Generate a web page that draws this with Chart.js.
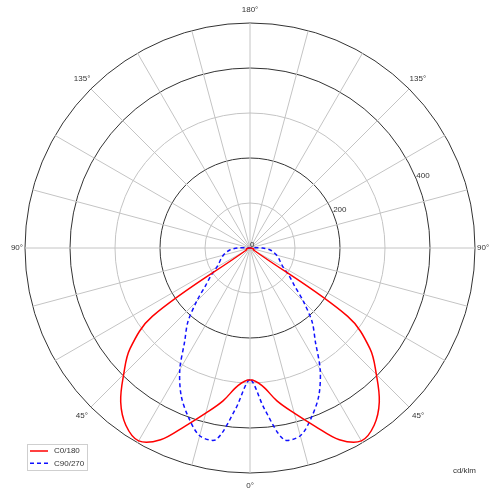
<!DOCTYPE html>
<html><head><meta charset="utf-8">
<script src="https://cdn.jsdelivr.net/npm/chart.js@4.4.1/dist/chart.umd.min.js"></script>
<style>html,body{margin:0;padding:0;background:#fff}#wrap{width:500px;height:496px}</style>
</head><body><div id="wrap"><canvas id="c" width="500" height="496"></canvas></div>
<script>
// gamma angles (deg from nadir) and luminous intensity in cd/klm
const gammaAngles = [0,5,10,15,20,25,30,35,40,45,50,55,60,65,70,75,80,85,90,95,100,105,110,115,120,125,130,135,140,145,150,155,160,165,170,175,180];
const c0_180  = [293,307,345,380,421,470,495,481,447,397,348,265,10,9,9,8,6,4,2,0,0,0,0,0,0,0,0,0,0,0,0,0,0,0,0,0,0];
const c90_270 = [293,357,432,432,400,362,312,253,215,168,128,105,85,75,68,61,53,44,28,5,0,0,0,0,0,0,0,0,0,0,0,0,0,0,0,0,0];
const seriesNames = ['C0/180','C90/270'];
const radialTickValues = [0,200,400];
const angleLabelValues = [0,45,90,135,180];
const unitLabel = 'cd/klm';

const STEP = 5;
const circleAngles = [];
for (let a = 0; a < 360; a += STEP) circleAngles.push(a);
const gammaOf = a => (a <= 180 ? a : 360 - a);
const valueAt = (arr, a) => arr[gammaAngles.indexOf(gammaOf(a))];

const FONT = '8px "Liberation Sans", Arial, sans-serif';
const TXT = '#333';

const labelPlugin = {
  id: 'polarLabels',
  afterDatasetsDraw(chart) {
    const s = chart.scales.r;
    const ctx = chart.ctx;
    ctx.save();
    ctx.font = FONT;
    ctx.fillStyle = TXT;
    const R = s.drawingArea;
    const seen = new Set();
    angleLabelValues.forEach(g => {
      [g, 360 - g].forEach(a0 => {
        const a = a0 % 360;
        if (seen.has(a)) return; seen.add(a);
        const p = s.getPointPosition(a / STEP, R);
        let x = p.x, y = p.y, align = 'center';
        if (a === 0) { y += 12.5; }
        else if (a === 180) { y -= 13.5; }
        else if (a === 90) { align = 'right'; x -= 2; }
        else if (a === 270) { align = 'left'; x += 2; }
        else {
          const left = a < 180;
          const bottom = (a < 90 || a > 270);
          align = left ? 'right' : 'left';
          x += (left ? -1 : 1) * (bottom ? 3 : 0.5);
          y += bottom ? 9 : -10;
        }
        ctx.textAlign = align;
        ctx.textBaseline = 'middle';
        ctx.fillText(g + '°', x, y);
      });
    });
    const tickIndex = (180 + 67.5) / STEP;
    ctx.textAlign = 'left';
    ctx.textBaseline = 'alphabetic';
    radialTickValues.forEach(v => {
      const p = s.getPointPosition(tickIndex, s.getDistanceFromCenterForValue(v));
      ctx.fillText(String(v), p.x, p.y - 1.5);
    });
    ctx.textAlign = 'right';
    ctx.textBaseline = 'middle';
    ctx.fillText(unitLabel, 476, 470.5);
    ctx.fillStyle = '#fff';
    ctx.strokeStyle = '#cfcfcf';
    ctx.lineWidth = 1;
    ctx.fillRect(27.5, 444.5, 60, 26);
    ctx.strokeRect(27.5, 444.5, 60, 26);
    chart.data.datasets.forEach((ds, i) => {
      const y = 451 + i * 12.3;
      ctx.beginPath();
      ctx.strokeStyle = ds.borderColor;
      ctx.lineWidth = ds.borderWidth;
      ctx.setLineDash(ds.borderDash || []);
      ctx.moveTo(30, y); ctx.lineTo(48, y);
      ctx.stroke();
      ctx.setLineDash([]);
      ctx.fillStyle = TXT;
      ctx.textAlign = 'left';
      ctx.fillText(seriesNames[i], 54, y);
    });
    ctx.restore();
  }
};

new Chart(document.getElementById('c'), {
  type: 'radar',
  data: {
    labels: circleAngles.map(a => gammaOf(a) + '°'),
    datasets: [
      { label: seriesNames[0], data: circleAngles.map(a => valueAt(c0_180, a)),
        borderColor: '#ff0000', borderWidth: 1.5, fill: false, pointRadius: 0, tension: 0.36 },
      { label: seriesNames[1], data: circleAngles.map(a => valueAt(c90_270, a)),
        borderColor: '#1010ff', borderWidth: 1.5, borderDash: [4, 3], fill: false, pointRadius: 0, tension: 0.3 }
    ]
  },
  options: {
    responsive: false,
    animation: false,
    events: [],
    layout: { padding: { left: 25, right: 25, top: 23, bottom: 23 } },
    plugins: { legend: { display: false }, tooltip: { enabled: false } },
    scales: {
      r: {
        min: 0, max: 500,
        startAngle: 180,
        ticks: { display: false, stepSize: 100 },
        pointLabels: { display: false },
        grid: {
          circular: true,
          color: c => (c.tick && (c.tick.value % 200 === 0 || c.tick.value === 500)) ? '#333' : '#c4c4c4',
          lineWidth: 1
        },
        angleLines: {
          color: '#c4c4c4',
          lineWidth: c => (c.index % 3 === 0 ? 1 : 0)
        }
      }
    }
  },
  plugins: [labelPlugin]
});
</script></body></html>
